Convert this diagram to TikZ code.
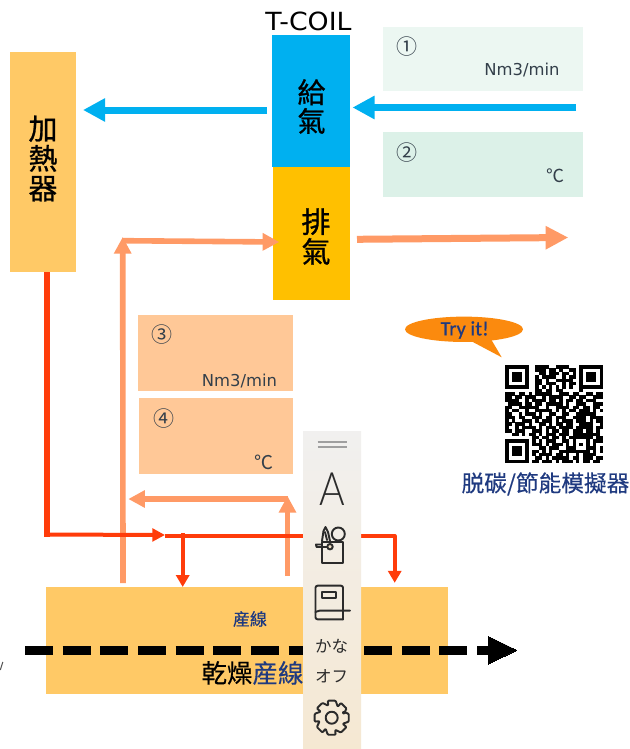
\documentclass[tikz,border=0pt]{standalone}
\usepackage{fontspec}
\usetikzlibrary{arrows.meta,shapes.geometric}
\setmainfont{Noto Sans CJK TC}
\newfontfamily\strongf[FakeBold=0.9]{Noto Sans CJK TC}
\newfontfamily\semif[FakeBold=0.35]{Noto Sans CJK TC}
\newfontfamily\jpf{Noto Sans CJK JP}
\newfontfamily\latinf{DejaVu Sans}
\newfontfamily\caliberf[FakeBold=0.4]{Carlito}
\newfontfamily\lightf[UprightFont=* Light]{Lato}
\newcommand{\pxf}[1]{\pgfmathsetmacro\pxtmp{#1*0.75}\pgfmathsetmacro\pxlead{#1*0.77}\fontsize{\pxtmp pt}{\pxlead pt}\selectfont}
\definecolor{heat}{HTML}{FFC966}
\definecolor{coilblue}{HTML}{00B0F0}
\definecolor{coilamber}{HTML}{FFC000}
\definecolor{mintA}{HTML}{ECF7F2}
\definecolor{mintB}{HTML}{DCF1E8}
\definecolor{peach}{HTML}{FFC897}
\definecolor{exhaust}{HTML}{FF9A66}
\definecolor{hotred}{HTML}{FF3C0A}
\definecolor{navy}{HTML}{1F3A80}
\definecolor{callout}{HTML}{FB8A0E}
\definecolor{unit}{HTML}{333F4A}
\definecolor{icon}{HTML}{2B2B2B}
\definecolor{paneltop}{HTML}{F1F0EF}
\definecolor{panelmid}{HTML}{F1E1C6}
\definecolor{panelbot}{HTML}{F5E8D2}
\newcount\qrx
\newcount\qry
\makeatletter
\def\qrscan#1{\ifx#1\relax\else
  \ifx#1X\fill[black] ({505+\the\qrx*3.38},{365+\the\qry*3.38}) rectangle ++(3.5,3.5);\fi
  \advance\qrx by 1 \expandafter\qrscan\fi}
\def\qrrow#1{\qrx=0 \qrscan#1\relax \advance\qry by 1 }
\makeatother
\tikzset{
  block/.style={inner sep=0pt,outer sep=0pt,align=center},
  label text/.style={inner sep=0pt,outer sep=0pt,text=unit},
  bluearrow/.style={coilblue,line width=5.25pt,-{Triangle[length=16.5pt,width=16.5pt]}},
  exhaustbig/.style={exhaust,line width=5.25pt,-{Triangle[length=17pt,width=16.5pt]}},
  exhaustline/.style={exhaust,line width=4.2pt,-{Triangle[length=12.5pt,width=12.5pt]}},
  redtap/.style={hotred,line width=2.6pt,-{Triangle[length=9pt,width=9.8pt]}},
  iconline/.style={icon,line width=1.45pt,line cap=round,line join=round},
}
\begin{document}
\begin{tikzpicture}[x=0.75pt,y=-0.75pt]
\useasboundingbox (0,0) rectangle (630,749);
\fill[white] (0,0) rectangle (630,749);

% main blocks
\node[block,fill=heat,minimum width=49.5pt,minimum height=165pt] (heater) at (43,162) {};
\node[block,font=\strongf\pxf{29}] at (43,158.5) {加\\熱\\器};
\node[block,fill=coilblue,minimum width=58.5pt,minimum height=99pt] (supply) at (311,101) {};
\node[block,font=\strongf\pxf{28}] at (311.5,106.5) {給\\氣};
\node[block,fill=coilamber,minimum width=57.75pt,minimum height=99.75pt] (exhaustbox) at (311.5,233.5) {};
\node[block,font=\strongf\pxf{29}] at (316,236.5) {排\\氣};
\node[block,xscale=1.07,font=\latinf\pxf{25}] (tcoil) at (308.5,21) {T-COIL};

% readouts
\node[block,fill=mintA,minimum width=150pt,minimum height=48pt] (r1) at (483,59) {};
\node[label text] at (407,46.5) {\jpf\pxf{21}①};
\node[label text] at (522,70.5) {\latinf\pxf{16.4}Nm3/min};
\node[block,fill=mintB,minimum width=150pt,minimum height=48.75pt] (r2) at (483,164.5) {};
\node[label text] at (407,153) {\jpf\pxf{21}②};
\node[label text] at (555,175.5) {\jpf\pxf{18}℃};
\node[block,fill=peach,minimum width=116.25pt,minimum height=57pt] (r3) at (215.5,353) {};
\node[label text] at (161.7,335) {\jpf\pxf{21}③};
\node[label text] at (239.5,381) {\latinf\pxf{16.4}Nm3/min};
\node[block,fill=peach,minimum width=115.5pt,minimum height=57pt] (r4) at (216,436) {};
\node[label text] at (163.5,419) {\jpf\pxf{21}④};
\node[label text] at (263.5,462) {\jpf\pxf{19}℃};

% production line
\node[block,fill=heat,minimum width=301.5pt,minimum height=80.25pt] (line) at (247,640.5) {};
\node[block,text=navy,font=\semif\pxf{17}] at (250,619) {産線};
\node[block,anchor=west,font=\semif\pxf{25.5}] (drytext) at (201.5,673) {乾燥\textcolor{navy}{産線}};

% junctions / free ends
\coordinate (bA) at (267,110);
\coordinate (bB) at (83,110);
\coordinate (bC) at (576,107.5);
\coordinate (bD) at (352.5,107.5);
\coordinate (eA) at (357,239.3);
\coordinate (eB) at (568.3,237.5);
\coordinate (lA) at (123,583);
\coordinate (lB) at (122.7,237);
\coordinate (lC) at (122,240.7);
\coordinate (lD) at (279.3,242);
\coordinate (rA) at (46.5,534.5);
\coordinate (rB) at (165,535);
\coordinate (rC) at (394.7,536);
\coordinate (rD) at (394.7,582.8);
\coordinate (rE) at (182.7,533);
\coordinate (rF) at (182.7,587);
\coordinate (tA) at (287.5,576);
\coordinate (tB) at (287.5,496);
\coordinate (tC) at (287.5,499);
\coordinate (tD) at (128.3,499);
\coordinate (dA) at (25,650.3);
\coordinate (dB) at (516.7,650.3);

% connectors
\draw[bluearrow] (bA) -- (bB);
\draw[bluearrow] (bC) -- (bD);
\draw[exhaustbig] (eA) -- (eB);
\draw[exhaustline] (lA) -- (lB);
\draw[exhaustline] (lC) -- (lD);
\draw[exhaustline] (tA) -- (tB);
\draw[exhaustline] (tC) -- (tD);
\draw[hotred,line width=4.5pt] (heater.south -| rA) -- ([yshift=-1.5pt]rA);
\draw[hotred,line width=3pt,-{Triangle[length=9.5pt,width=9.5pt]}] ([xshift=-1.5pt]rA) -- (rB);
\draw[hotred,line width=2.8pt,line join=round] (rB |- rC) -- (rC) -- (rC |- 0,550);
\draw[redtap,line width=2.9pt] (rC) -- (rD);
\draw[redtap,line width=2.9pt] (rE) -- (rF);

% dashed conveyor
\draw[black,line width=6.6pt,dash pattern=on 21pt off 7.25pt] (dA) -- (488,650.3);
\draw[black,line width=0pt,fill=black] (488,636.3) -- (dB) -- (488,664.3) -- cycle;
\draw[gray!70!black,line width=0.8pt] (2.8,662) -- (0.3,670);

% callout
\fill[callout] (470,340.5) -- (501.7,357.3) -- (491.5,340) -- cycle;
\node[ellipse,fill=callout,minimum width=88.5pt,minimum height=19pt,inner sep=0pt] (tryit) at (464,329.3) {};
\node[block,text=navy,font=\caliberf\pxf{20.5}] at (464.7,330) {Try it!};
\node[block,text=navy,font=\semif\pxf{22.7}] (sim) at (545.5,484) {脱碳/節能模擬器};

% QR code
\qry=0
\qrrow{XXXXXXX..XXXX..XXXX...XXXXXXX}
\qrrow{X.....X..XXX.XX.X..XX.X.....X}
\qrrow{X.XXX.X...XX.XXX.XX.X.X.XXX.X}
\qrrow{X.XXX.X..X.XXXX..X.XX.X.XXX.X}
\qrrow{X.XXX.X..XX.X..XXXXX..X.XXX.X}
\qrrow{X.....X..XX.XXX..X.XX.X.....X}
\qrrow{XXXXXXX..X.X.X.X.X.X..XXXXXXX}
\qrrow{.........XX.XX.XX.....X......}
\qrrow{XXX.XX.X.XXXXX..XXX.XX..XX.XX}
\qrrow{XX.XX.XXX..X.XXXX..XX.XX..XXX}
\qrrow{XXXX..X.XXXX.XX.X.XX.XX.XXX..}
\qrrow{.XXXX.XX.XX.XXXXX.X..XXX..XXX}
\qrrow{XX..XXXXXX..X..XXXX.XX.XX.XX.}
\qrrow{X.XX..X..XXXXX.X.X.XX.XXX.X.X}
\qrrow{XX..X.XXX.X..XX..XX..XXXXXX..}
\qrrow{XXX.XX..XXX.XX.XXX..XXXX.XXXX}
\qrrow{X.X..XXX.X.XXX.X.XXX.XXX.X.XX}
\qrrow{XX.XXX.X..XX.X.XX.XX..XXXX..X}
\qrrow{X..X.XXXX.X.XXX.XXXX.XXXXX.XX}
\qrrow{XX.XXX..XXX.X.XX.XX.XXX.XX.X.}
\qrrow{..XX.X.XX.X.XXX.XXX.XXXXXXXX.}
\qrrow{........XX.XX.XX.X.XXXXXXX.XX}
\qrrow{XXXXXXX.X.X.XXX..XX.X...X.XXX}
\qrrow{X.....X.XXX.X.XXX.X.X.X.X.X..}
\qrrow{X.XXX.X...XX.XXX..XXX...XXX.X}
\qrrow{X.XXX.X.XX.X.X..XXXXXXXXX.X.X}
\qrrow{X.XXX.X.X.XXXX.XX.X..X.XXXX..}
\qrrow{X.....X..XX.X.XXXXX.XX.XXX.XX}
\qrrow{XXXXXXX.XX.XXX.X.XXX.X.XX.XX.}

% floating tool panel
\shade[top color=paneltop,middle color=panelmid,bottom color=panelbot] (303,431) rectangle (361,749);
\draw[gray!75,line width=1.5pt] (317.7,441.7) -- (346.7,441.7) (317.7,447.3) -- (346.7,447.3);
\node[block,text=icon,xscale=0.85,font=\lightf\pxf{46}] (fontbtn) at (332,489.5) {A};
% tools icon
\draw[iconline] (321.7,541.7) rectangle (343.3,562.7);
\draw[iconline,fill=none] (338.3,534) circle (6.5);
\draw[iconline] (322,541) -- (323.5,531) -- (325.5,527) -- (328,532) -- (330,541);
\draw[iconline] (325,532) -- (327,540);
\draw[iconline] (316.5,546.7) -- (327.3,546.7);
\draw[iconline] (316.5,546.7) -- (316,544.5) -- (322,544.5);
\draw[iconline,fill=panelmid] (330,546.7) circle (2.7);
% book icon
\draw[iconline,rounded corners=1.5pt] (343,605) -- (343,585.7) -- (315.5,585.7) -- (315.5,619.3) -- (343,619.3);
\draw[iconline,rounded corners=1.5pt] (315.5,612) -- (317.5,610.7) -- (350,610.7);
\draw[iconline] (342.7,605) -- (342.7,619.3);
\draw[iconline] (321.7,592.3) rectangle (335.7,598.3);
\node[block,text=icon] (kana) at (331.5,646.7) {\jpf\pxf{16.5}かな};
\node[block,text=icon] (off) at (331.5,676) {\jpf\pxf{16.5}オフ};
% gear icon
\coordinate (gear) at (331.7,717.7);
\draw[iconline,rounded corners=0.7pt,shift={(gear)}] (-29:12.5) \foreach \a in {0,45,...,315} { -- ({\a-13}:17.5) -- ({\a+13}:17.5) -- ({\a+29}:12.5) } -- cycle;
\draw[iconline] (gear) circle (6);
\end{tikzpicture}
\end{document}
